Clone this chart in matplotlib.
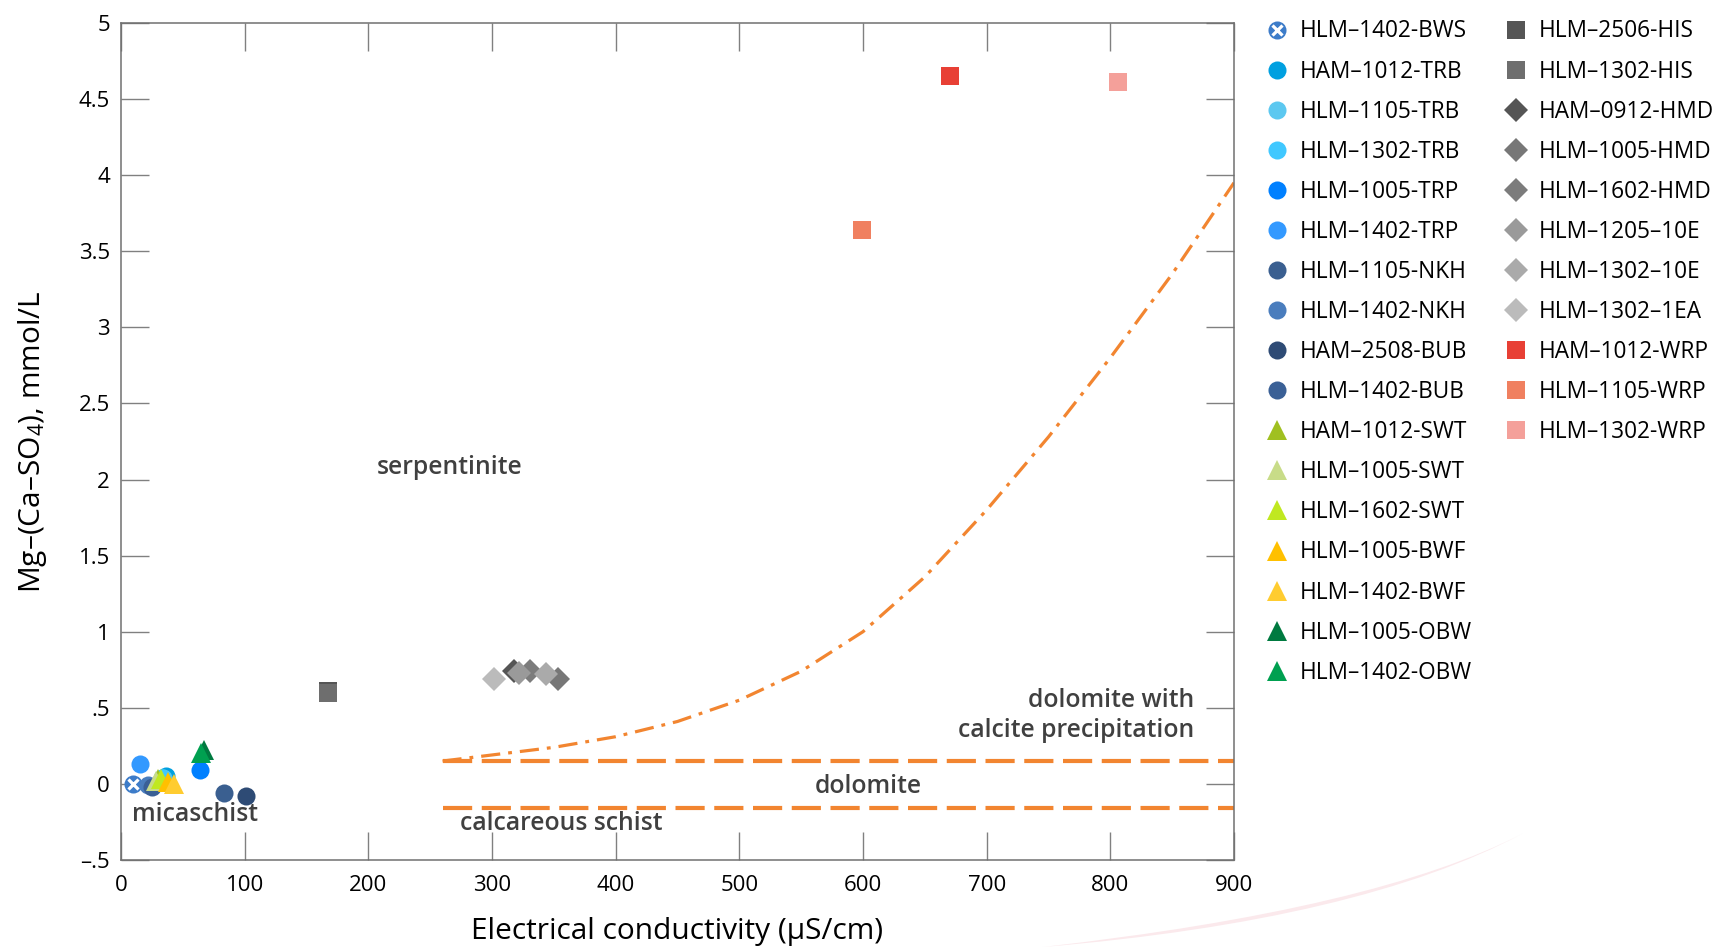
import numpy as np
import matplotlib.pyplot as plt
from matplotlib.legend_handler import HandlerTuple
from matplotlib.path import Path
from matplotlib.patches import PathPatch

plt.rcParams['font.family'] = ['Open Sans', 'DejaVu Sans']
plt.rcParams['mathtext.fontset'] = 'custom'
plt.rcParams['mathtext.rm'] = 'Open Sans'
plt.rcParams['mathtext.it'] = 'Open Sans'

# samples: name, marker, colour, x (EC, uS/cm), y (Mg-(Ca-SO4), mmol/L)
col1_names = ["HLM–1402-BWS", "HAM–1012-TRB", "HLM–1105-TRB", "HLM–1302-TRB", "HLM–1005-TRP",
              "HLM–1402-TRP", "HLM–1105-NKH", "HLM–1402-NKH", "HAM–2508-BUB", "HLM–1402-BUB",
              "HAM–1012-SWT", "HLM–1005-SWT", "HLM–1602-SWT", "HLM–1005-BWF", "HLM–1402-BWF",
              "HLM–1005-OBW", "HLM–1402-OBW"]
col1_markers = ["o"] * 10 + ["^"] * 7
col1_colors = ["#3d7cc9", "#00a0e0", "#5cc8f0", "#40c8ff", "#0080ff",
               "#3399ff", "#3a5f90", "#4a7dbd", "#2e4b75", "#3a6096",
               "#a0c020", "#c8dc88", "#c0e820", "#ffc000", "#ffcc30",
               "#007a40", "#00a050"]
col1_x = [10, 36, 34, 33, 64, 15, 83, 22, 101, 25, 30, 28, 32, 38, 43, 67, 65]
col1_y = [0.0, 0.05, 0.04, 0.04, 0.09, 0.13, -0.06, -0.01, -0.08, -0.02,
          0.03, 0.02, 0.03, 0.01, 0.0, 0.22, 0.20]

col2_names = ["HLM–2506-HIS", "HLM–1302-HIS", "HAM–0912-HMD", "HLM–1005-HMD", "HLM–1602-HMD",
              "HLM–1205–10E", "HLM–1302–10E", "HLM–1302–1EA", "HAM–1012-WRP", "HLM–1105-WRP",
              "HLM–1302-WRP"]
col2_markers = ["s", "s", "D", "D", "D", "D", "D", "D", "s", "s", "s"]
col2_colors = ["#555555", "#6e6e6e", "#555555", "#777777", "#7c7c7c",
               "#9a9a9a", "#aaaaaa", "#bbbbbb", "#e84035", "#f08060", "#f4a09a"]
col2_x = [167, 167, 318, 353, 331, 322, 344, 302, 670, 599, 806]
col2_y = [0.61, 0.60, 0.74, 0.69, 0.74, 0.73, 0.72, 0.69, 4.65, 3.64, 4.61]

# boundary lines
dolomite_x = [260, 900]
dolomite_top = 0.15
dolomite_bottom = -0.16
curve_x = [260, 300, 350, 400, 450, 500, 550, 600, 650, 700, 750, 800, 850, 900]
curve_y = [0.15, 0.19, 0.24, 0.31, 0.41, 0.55, 0.74, 1.00, 1.36, 1.80, 2.28, 2.80, 3.35, 3.95]

yticks = [-0.5, 0, 0.5, 1, 1.5, 2, 2.5, 3, 3.5, 4, 4.5, 5]
ytick_labels = ["–.5", "0", ".5", "1", "1.5", "2", "2.5", "3", "3.5", "4", "4.5", "5"]
xticks = [0, 100, 200, 300, 400, 500, 600, 700, 800, 900]

sizes = {"o": 13, "^": 15, "s": 13.5, "D": 12.5}

fig = plt.figure(figsize=(17.21, 9.47), dpi=100)
ax = fig.add_axes([0.0703, 0.0919, 0.6467, 0.8838])

# faint decorative swoosh bottom right
p0, c1, p1, c2 = (0.606, 0.0), (0.80, 0.04), (0.885, 0.12), (0.79, 0.028)
swoosh = Path([p0, c1, p1, c2, p0, p0],
              [Path.MOVETO, Path.CURVE3, Path.CURVE3, Path.CURVE3, Path.CURVE3, Path.CLOSEPOLY])
fig.patches.append(PathPatch(swoosh, transform=fig.transFigure,
                             facecolor="#fbe9ec", edgecolor="none", zorder=0))

orange = "#f28530"
ax.plot(dolomite_x, [dolomite_top] * 2, color=orange, lw=3, ls=(0, (7, 2.3)), zorder=1)
ax.plot(dolomite_x, [dolomite_bottom] * 2, color=orange, lw=3, ls=(0, (7, 2.3)), zorder=1)
ax.plot(curve_x, curve_y, color=orange, lw=2.3, ls=(0, (6, 2.5, 1.2, 2.5)), zorder=1)

h1 = []
for i in range(len(col1_names)):
    m = col1_markers[i]
    h, = ax.plot(col1_x[i], col1_y[i], ls="none", marker=m, ms=sizes[m],
                 color=col1_colors[i], mew=0, zorder=3)
    if i == 0:
        hx, = ax.plot(col1_x[i], col1_y[i], ls="none", marker="x", ms=6.5,
                      color="white", mew=2.3, zorder=3)
        h1.append((h, hx))
    else:
        h1.append(h)

h2 = []
for i in range(len(col2_names)):
    m = col2_markers[i]
    h, = ax.plot(col2_x[i], col2_y[i], ls="none", marker=m, ms=sizes[m],
                 color=col2_colors[i], mew=0, zorder=3)
    h2.append(h)

txt = dict(color="#404040", fontsize=17.8, fontweight="semibold")
ax.text(266, 2.08, "serpentinite", ha="center", va="center", **txt)
ax.text(60, -0.2, "micaschist", ha="center", va="center", **txt)
ax.text(868, 0.45, "dolomite with\ncalcite precipitation", ha="right", va="center",
        linespacing=1.3, **txt)
ax.text(604, -0.02, "dolomite", ha="center", va="center", **txt)
ax.text(356, -0.26, "calcareous schist", ha="center", va="center", **txt)

ax.set_xlim(0, 900)
ax.set_ylim(-0.5, 5)
ax.set_xticks(xticks)
ax.set_yticks(yticks)
ax.set_yticklabels(ytick_labels)
ax.tick_params(direction="in", length=20, width=1, color="#808080", labelsize=16,
               top=True, right=True)
ax.tick_params(axis="x", pad=11)
ax.tick_params(axis="y", pad=8)
for s in ax.spines.values():
    s.set_color("#707070")
    s.set_linewidth(1.1)

ax.set_xlabel("Electrical conductivity (µS/cm)", fontsize=21.5, labelpad=15)
ax.set_ylabel("Mg–(Ca–SO$_4$), mmol/L", fontsize=21.5, labelpad=21)

leg_kw = dict(loc="upper left", frameon=False, fontsize=16.3, labelspacing=0.71,
              handletextpad=0.4, handlelength=1.2, borderaxespad=0)
leg1 = fig.legend(h1, col1_names, bbox_to_anchor=(0.729, 0.989),
                  handler_map={tuple: HandlerTuple(ndivide=1)}, **leg_kw)
leg2 = fig.legend(h2, col2_names, bbox_to_anchor=(0.868, 0.989), **leg_kw)

fig.savefig("out.png", dpi=100)
